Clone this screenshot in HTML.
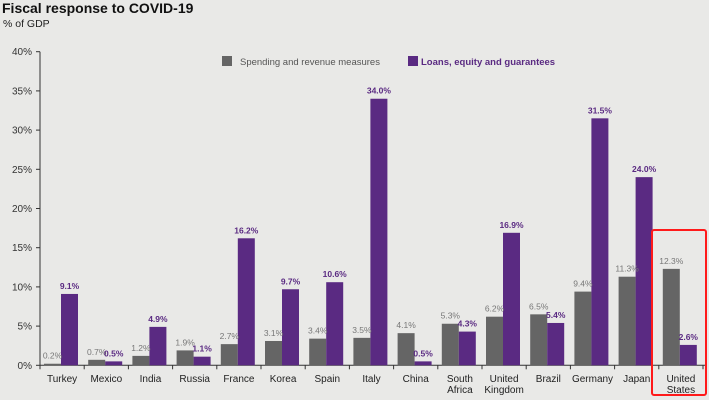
<!DOCTYPE html>
<html><head><meta charset="utf-8"><style>
body{margin:0;background:#e9e9e7;}
svg{display:block;font-family:"Liberation Sans",Arial,sans-serif;}
</style></head><body>
<svg id="c" width="709" height="400">
<rect width="709" height="400" fill="#e9e9e7"/>
<text x="2" y="13" font-size="14" font-weight="bold" fill="#111">Fiscal response to COVID-19</text>
<text x="3" y="27" font-size="10.5" fill="#222">% of GDP</text>
<g>
<rect x="222" y="56" width="10" height="10" fill="#656565"/>
<text x="240" y="65" font-size="9.5" fill="#555">Spending and revenue measures</text>
<rect x="408" y="56" width="10" height="10" fill="#5a2a82"/>
<text x="421" y="65" font-size="9.5" fill="#5a2a82" font-weight="bold">Loans, equity and guarantees</text>
</g>
<g id="plot"></g>
<rect x="652" y="230" width="54" height="165" fill="none" stroke="#ff1a1a" stroke-width="2" rx="2"/>
</svg>
<script>
const categories=[["Turkey"],["Mexico"],["India"],["Russia"],["France"],["Korea"],["Spain"],["Italy"],["China"],["South","Africa"],["United","Kingdom"],["Brazil"],["Germany"],["Japan"],["United","States"]];
const spending=[0.2,0.7,1.2,1.9,2.7,3.1,3.4,3.5,4.1,5.3,6.2,6.5,9.4,11.3,12.3];
const loans=[9.1,0.5,4.9,1.1,16.2,9.7,10.6,34.0,0.5,4.3,16.9,5.4,31.5,24.0,2.6];
const yTicks=[0,5,10,15,20,25,30,35,40];

const NS="http://www.w3.org/2000/svg";
const g=document.getElementById('plot');
const x0=40,x1=705,bw=44.2,yZero=365.3,yTop=51.7,yMax=40;
function y(v){return yZero-(v/yMax)*(yZero-yTop);}
function band(i){return x0+i*bw;}
function mk(t,a,txt){const e=document.createElementNS(NS,t);for(const k in a)e.setAttribute(k,a[k]);if(txt!==undefined)e.textContent=txt;g.appendChild(e);return e;}
let e=mk('line',{x1:x0,y1:yTop,x2:x0,y2:yZero,stroke:'#333','stroke-width':1});


e=mk('line',{x1:x0,y1:yZero,x2:x1,y2:yZero,stroke:'#333','stroke-width':1});


yTicks.forEach(t=>{
  const yy=y(t);
  let l=mk('line',{x1:x0-4,y1:yy,x2:x0,y2:yy,stroke:'#333'});
  
  
  let tx=mk('text',{x:x0-8,y:yy+3.5,'font-size':10,fill:'#333','text-anchor':'end'},t+'%');
  
  
});
for(let i=0;i<=categories.length;i++){
  let l=mk('line',{x1:band(i),y1:yZero,x2:band(i),y2:yZero+4,stroke:'#333'});
  
  
}
categories.forEach((c,i)=>{
  const bx=band(i);
  const sx=bx+4,lx=bx+21,w=17;
  let r=mk('rect',{x:sx,y:y(spending[i]),width:w,height:yZero-y(spending[i]),fill:'#656565'});
  
  
  r=mk('rect',{x:lx,y:y(loans[i]),width:w,height:yZero-y(loans[i]),fill:'#5a2a82'});
  
  
  let t=mk('text',{x:sx+w/2,y:y(spending[i])-5,'font-size':8.5,fill:'#777','text-anchor':'middle'},spending[i].toFixed(1)+'%');
  
  
  t=mk('text',{x:lx+w/2,y:y(loans[i])-5,'font-size':8.5,fill:'#5a2a82','font-weight':'bold','text-anchor':'middle'},loans[i].toFixed(1)+'%');
  
  
  c.forEach((line,j)=>{
    let tl=mk('text',{x:bx+bw/2,y:382+j*11,'font-size':10,fill:'#222','text-anchor':'middle'},line);
    
    
  });
});
</script>
</body></html>
